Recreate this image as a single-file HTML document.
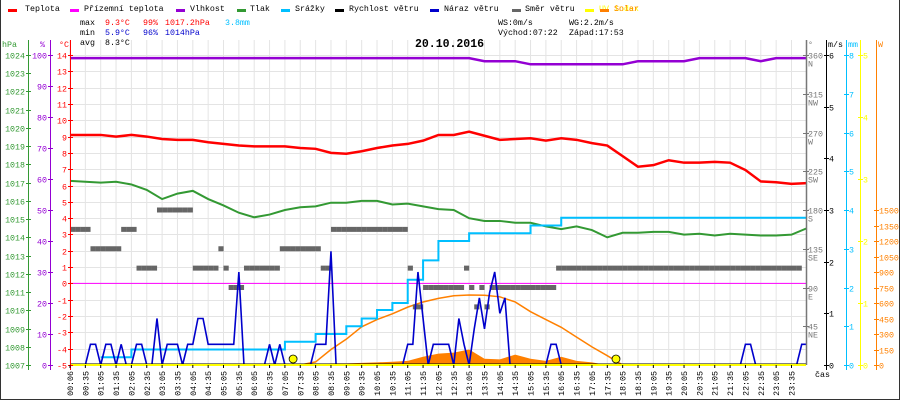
<!DOCTYPE html>
<html><head><meta charset="utf-8">
<style>
html,body{margin:0;padding:0;background:#fff;}
#wrap{position:relative;width:900px;height:400px;overflow:hidden;background:#fff;font-family:"Liberation Mono",monospace;}
svg{position:absolute;left:0;top:0;}
.t{position:absolute;font-size:8.3px;line-height:10px;white-space:pre;font-family:"Liberation Mono",monospace;}
.lg{position:absolute;top:5px;height:10px;}
.dash{position:absolute;top:4px;width:9px;height:3px;}
</style></head>
<body>
<div id="wrap">
<svg id="chart" width="900" height="400"></svg>

<div class="lg" style="left:8px"><span class="dash" style="left:0;background:#ff0000"></span><span class="t" style="left:17px;top:0">Teplota</span></div>
<div class="lg" style="left:70px"><span class="dash" style="left:0;background:#ff00ff"></span><span class="t" style="left:14px;top:0">Přízemní teplota</span></div>
<div class="lg" style="left:176px"><span class="dash" style="left:0;background:#9400d3"></span><span class="t" style="left:14px;top:0">Vlhkost</span></div>
<div class="lg" style="left:237px"><span class="dash" style="left:0;background:#339933"></span><span class="t" style="left:13px;top:0">Tlak</span></div>
<div class="lg" style="left:281px"><span class="dash" style="left:0;background:#00bfff"></span><span class="t" style="left:14px;top:0">Srážky</span></div>
<div class="lg" style="left:335px"><span class="dash" style="left:0;background:#000"></span><span class="t" style="left:14px;top:0">Rychlost větru</span></div>
<div class="lg" style="left:430px"><span class="dash" style="left:0;background:#0000cc"></span><span class="t" style="left:14px;top:0">Náraz větru</span></div>
<div class="lg" style="left:512px"><span class="dash" style="left:0;background:#666"></span><span class="t" style="left:13px;top:0">Směr větru</span></div>
<div class="lg" style="left:585px"><span class="dash" style="left:0;background:#ffff00"></span><span class="t" style="left:14px;top:0;color:#ffff00">UV index</span></div>
<div class="lg" style="left:600px;left:600px"><span class="dash" style="left:0;background:#ff8000"></span><span class="t" style="left:14px;top:0;color:#ff8000">Solar</span></div>

<span class="t" style="left:80px;top:19px">max</span>
<span class="t" style="left:105px;top:19px;color:#ff0000">9.3°C</span>
<span class="t" style="left:143px;top:19px;color:#ff0000">99%</span>
<span class="t" style="left:165px;top:19px;color:#ff0000">1017.2hPa</span>
<span class="t" style="left:225px;top:19px;color:#00bfff">3.8mm</span>
<span class="t" style="left:80px;top:29px">min</span>
<span class="t" style="left:105px;top:29px;color:#0000cc">5.9°C</span>
<span class="t" style="left:143px;top:29px;color:#0000cc">96%</span>
<span class="t" style="left:165px;top:29px;color:#0000cc">1014hPa</span>
<span class="t" style="left:80px;top:39px">avg</span>
<span class="t" style="left:105px;top:39px">8.3°C</span>
<span class="t" style="left:498px;top:19px">WS:0m/s</span>
<span class="t" style="left:569px;top:19px">WG:2.2m/s</span>
<span class="t" style="left:498px;top:29px">Východ:07:22</span>
<span class="t" style="left:569px;top:29px">Západ:17:53</span>
<span class="t" style="left:415px;top:38px;font-size:11.5px;font-weight:bold;line-height:14px">20.10.2016</span>
</div>

<script>
// ---- data (30-minute samples starting 00:06) ----
var temperature = [9.1,9.1,9.1,9.0,9.1,9.0,8.85,8.8,8.8,8.65,8.55,8.45,8.4,8.4,8.4,8.3,8.25,8.0,7.95,8.1,8.3,8.45,8.55,8.75,9.1,9.1,9.3,9.05,8.8,8.85,8.9,8.75,8.9,8.8,8.6,8.45,7.8,7.15,7.25,7.55,7.4,7.4,7.45,7.4,6.95,6.25,6.2,6.1,6.15];
var pressure = [1017.1,1017.05,1017.0,1017.05,1016.9,1016.6,1016.1,1016.4,1016.55,1016.1,1015.75,1015.35,1015.1,1015.25,1015.5,1015.65,1015.7,1015.9,1015.9,1016.0,1016.0,1015.8,1015.85,1015.7,1015.55,1015.5,1015.05,1014.9,1014.9,1014.8,1014.8,1014.6,1014.45,1014.6,1014.4,1014.0,1014.25,1014.25,1014.3,1014.3,1014.15,1014.2,1014.1,1014.2,1014.15,1014.1,1014.1,1014.15,1014.5];
var humidity = [99,99,99,99,99,99,99,99,99,99,99,99,99,99,99,99,99,99,99,99,99,99,99,99,99,99,99,98,98,98,97,97,97,97,97,97,97,98,98,98,98,99,99,99,99,98,99,99,99];
var rain = [null,null,0.2,0.2,0.4,0.4,0.4,0.4,0.4,0.4,0.4,0.4,0.4,0.4,0.6,0.6,0.8,0.8,1.0,1.2,1.42,1.6,2.2,2.7,3.2,3.2,3.4,3.4,3.4,3.4,3.6,3.6,3.8,3.8,3.8,3.8,3.8,3.8,3.8,3.8,3.8,3.8,3.8,3.8,3.8,3.8,3.8,3.8,3.8];
var solar = [0,0,0,0,0,0,0,0,0,0,0,0,0,0,0,0,5,16,16,20,25,32,40,80,110,120,150,60,55,100,60,40,80,40,25,0,0,0,0,0,0,0,0,0,0,0,0,0,0];
var solarMax = [null,null,null,null,null,null,null,null,null,null,null,null,null,null,null,0,30,150,250,370,440,495,560,610,645,670,678,675,660,610,516,440,365,270,175,90,0,null,null,null,null,null,null,null,null,null,null,null,null];
var feelsLike = [0,0];
// ---- data (10-minute samples starting 00:06) ----
var gust = [0,0,0,0,0.4,0.4,0,0.4,0.4,0,0.4,0,0,0.4,0.4,0,0,0.9,0,0.4,0.4,0.4,0,0.4,0.4,0.9,0.9,0.4,0.4,0.4,0.4,0.4,0.4,1.8,0,0,0,0,0,0.4,0,0.4,0,0,0,0,0,0,0.4,0.4,0.4,2.2,0,0,0,0,0,0,0,0,0,0,0,0,0,0,0.4,0.4,1.8,0.9,0,0.4,0.4,0.4,0.4,0,0.9,0.4,0,0.7,1.3,0.7,1.4,1.8,1.0,1.3,0,0,0,0,0,0,0,0,0.4,0.4,0,0,0,0,0,0,0,0,0,0,0,0,0,0,0,0,0,0,0,0,0,0,0,0,0,0,0,0,0,0,0,0,0,0,0,0,0.4,0.4,0,0,0,0,0,0,0,0,0,0.4,0.4];
var direction = [157.5,157.5,157.5,157.5,135,135,135,135,135,135,157.5,157.5,157.5,112.5,112.5,112.5,112.5,180,180,180,180,180,180,180,112.5,112.5,112.5,112.5,112.5,135,112.5,90,90,90,112.5,112.5,112.5,112.5,112.5,112.5,112.5,135,135,135,135,135,135,135,135,112.5,112.5,157.5,157.5,157.5,157.5,157.5,157.5,157.5,157.5,157.5,157.5,157.5,157.5,157.5,157.5,157.5,112.5,67.5,67.5,90,90,90,90,90,90,90,90,112.5,90,67.5,90,67.5,90,90,90,90,90,90,90,90,90,90,90,90,90,112.5,112.5,112.5,112.5,112.5,112.5,112.5,112.5,112.5,112.5,112.5,112.5,112.5,112.5,112.5,112.5,112.5,112.5,112.5,112.5,112.5,112.5,112.5,112.5,112.5,112.5,112.5,112.5,112.5,112.5,112.5,112.5,112.5,112.5,112.5,112.5,112.5,112.5,112.5,112.5,112.5,112.5,112.5,112.5,112.5,112.5,112.5,112.5];
// ---- tick labels ----
var timeLabels = ["00:06","00:35","01:05","01:35","02:05","02:35","03:05","03:35","04:05","04:35","05:05","05:35","06:05","06:35","07:05","07:35","08:05","08:35","09:05","09:35","10:05","10:35","11:05","11:35","12:05","12:35","13:05","13:35","14:05","14:35","15:05","15:35","16:05","16:35","17:05","17:35","18:05","18:35","19:05","19:35","20:05","20:35","21:05","21:35","22:05","22:35","23:05","23:35"];
var tempTicks = [-5,-4,-3,-2,-1,0,1,2,3,4,5,6,7,8,9,10,11,12,13,14];
var pressTicks = [1007,1008,1009,1010,1011,1012,1013,1014,1015,1016,1017,1018,1019,1020,1021,1022,1023,1024];
var humTicks = [0,10,20,30,40,50,60,70,80,90,100];
var dirTicks = [45,90,135,180,225,270,315,360];
var dirNames = ["NE","E","SE","S","SW","W","NW","N"];
var windTicks = [0,1,2,3,4,5,6];
var rainTicks = [0,1,2,3,4,5,6,7,8];
var uvTicks = [0,1,2,3,4,5];
var solarTicks = [0,150,300,450,600,750,900,1050,1200,1350,1500];
var sunEvents = [442,1073];

// ---- scales ----
var X0=70, PXMIN=0.5117, YB=365;
function xt(m){return X0+(m-6)*PXMIN;}
function xi(i){return xt(6+30*i);}
function xk(k){return xt(6+10*k);}
function yT(v){return YB-(v+5)*16.316;}
function yP(v){return YB-(v-1007)*18.235;}
function yH(v){return YB-v*3.1;}
function yR(v){return YB-v*38.75;}
function yW(v){return YB-v*51.667;}
function yD(v){return YB-v*0.8611;}
function yU(v){return YB-v*62;}
function yS(v){return YB-v*0.10333;}

var svg=document.getElementById('chart');
var NS='http://www.w3.org/2000/svg';
function mk(tag,attrs,parent){var e=document.createElementNS(NS,tag);for(var a in attrs)e.setAttribute(a,attrs[a]);(parent||svg).appendChild(e);return e;}
function txt(x,y,s,fill,anchor,parent){var e=mk('text',{x:x,y:y,fill:fill,'font-size':'8.3','font-family':'Liberation Mono, monospace','text-anchor':anchor||'start'},parent);e.textContent=s;return e;}

// frame
var fr=mk('path',{d:'M0.5 0 V399.5 H899.5 V0',fill:'none',stroke:'#333','stroke-width':1});



// grid
var grid=mk('g',{});


for(var g=0;g<timeLabels.length;g++){
  var gx=xi(g);
  var vl=mk('line',{x1:gx,x2:gx,y1:40,y2:YB,stroke:'#e4e4e4','stroke-width':1},grid);
  
  
}
for(var h=0;h<tempTicks.length;h++){
  var gy=Math.round(yT(tempTicks[h]))+0.5;
  var hl=mk('line',{x1:X0,x2:806,y1:gy,y2:gy,stroke:'#e4e4e4','stroke-width':1},grid);
  
  
}

// solar area
var sp='M'+xi(0)+' '+YB;
for(var i=0;i<solar.length;i++){sp+=' L'+xi(i)+' '+yS(solar[i]);}
sp+=' L'+xi(solar.length-1)+' '+YB+' Z';
var sa=mk('path',{d:sp,fill:'#ff8000',stroke:'none'});



function linePath(arr,xf,yf,step){
  var d='',started=false,px=0;
  for(var i=0;i<arr.length;i++){
    if(arr[i]===null){started=false;continue;}
    var x=xf(i),y=yf(arr[i]);
    if(!started){d+='M'+x+' '+y;started=true;}
    else if(step){d+=' L'+x+' '+yf(arr[i-1])+' L'+x+' '+y;}
    else d+=' L'+x+' '+y;
  }
  return d;
}

// solar max curve
var smc=mk('path',{d:linePath(solarMax,xi,yS,false),fill:'none',stroke:'#ff8000','stroke-width':1.5});



// feels-like (0 line)
var fl=mk('line',{x1:X0,x2:806,y1:yT(feelsLike[0]),y2:yT(feelsLike[1]),stroke:'#ff00ff','stroke-width':1});



// wind direction bars
var dg=mk('g',{});


for(var k=0;k<direction.length;k++){
  if(direction[k]===null)continue;
  var r=mk('rect',{x:xk(k),y:yD(direction[k])-2.5,width:5.2,height:5,fill:'#666'},dg);
  
  
}

// humidity
var hu=mk('path',{d:linePath(humidity,xi,yH,false),fill:'none',stroke:'#9400d3','stroke-width':2.5});


// pressure
var pr=mk('path',{d:linePath(pressure,xi,yP,false),fill:'none',stroke:'#339933','stroke-width':2});


// temperature
var te=mk('path',{d:linePath(temperature,xi,yT,false),fill:'none',stroke:'#ff0000','stroke-width':2.5});


// rain
var ra=mk('path',{d:linePath(rain,xi,yR,true),fill:'none',stroke:'#00bfff','stroke-width':2});


// gust
var gu=mk('path',{d:linePath(gust,xk,yW,false),fill:'none',stroke:'#0000cc','stroke-width':1.6});


// wind speed + uv baseline
var ws=mk('line',{x1:X0,x2:806,y1:YB-1,y2:YB-1,stroke:'#000','stroke-width':1});


var uv=mk('line',{x1:X0,x2:806,y1:YB,y2:YB,stroke:'#ffff00','stroke-width':2});



// sun markers
for(var s=0;s<sunEvents.length;s++){
  var c=mk('circle',{cx:xt(sunEvents[s]),cy:359,r:4,fill:'#ffff00',stroke:'#000','stroke-width':0.8});
  
  
}

// left axes
function axis(x,color,name,ticks,yf,fmt,side,top){
  var g=mk('g',{});
  
  
  mk('line',{x1:x+0.5,x2:x+0.5,y1:top,y2:370,stroke:color,'stroke-width':1},g);
  for(var i=0;i<ticks.length;i++){
    var y=Math.round(yf(ticks[i]))+0.5;
    mk('line',{x1:x-2,x2:x+3,y1:y,y2:y,stroke:color,'stroke-width':1},g);
    var t=side==='left'?txt(x-3,y+3,fmt(ticks[i]),color,'end',g):txt(x+3,y+3,fmt(ticks[i]),color,'start',g);
    
    
  }
  return g;
}
axis(28,'#339933','pressure-axis',pressTicks,yP,String,'left',40);
axis(50,'#9400d3','humidity-axis',humTicks,yH,String,'left',40);
axis(70,'#ff0000','temperature-axis',tempTicks,yT,String,'left',40);
var ah=[[2,'hPa','#339933'],[40,'%','#9400d3'],[59,'°C','#ff0000']];
for(var a=0;a<ah.length;a++){var at=txt(ah[a][0],47,ah[a][1],ah[a][2],'start');
  
  }

// right direction axis (plot border)
var dax=mk('g',{});


mk('line',{x1:806.5,x2:806.5,y1:40,y2:YB,stroke:'#777','stroke-width':1.5},dax);
for(var d=0;d<dirTicks.length;d++){
  var dy=Math.round(yD(dirTicks[d]))+0.5;
  mk('line',{x1:803,x2:809,y1:dy,y2:dy,stroke:'#777'},dax);
  var dt=txt(808,dy+3,String(dirTicks[d]),'#777','start',dax);
  
  
  var dn=txt(808,dy+11,dirNames[d],'#777','start',dax);
  
  
}
axis(826,'#000','wind-axis',windTicks,yW,String,'right',40);
axis(846,'#00bfff','rain-axis',rainTicks,yR,String,'right',40);
axis(860,'#ffff00','uv-axis',uvTicks,yU,String,'right',40);
axis(876,'#ff8000','solar-axis',solarTicks,yS,String,'right',40);
var rh=[[808,'°','#777'],[828,'m/s','#000'],[848,'mm','#00bfff'],[878,'W','#ff8000']];
for(var b=0;b<rh.length;b++){var bt=txt(rh[b][0],47,rh[b][1],rh[b][2],'start');
  
  }

// x axis labels
var xg=mk('g',{});


for(var j=0;j<timeLabels.length;j++){
  var lx=xi(j);
  mk('line',{x1:lx,x2:lx,y1:YB,y2:YB+3,stroke:'#000'},xg);
  var lt=mk('text',{x:0,y:0,fill:'#000','font-size':'8.3','font-family':'Liberation Mono, monospace','text-anchor':'end',transform:'translate('+(lx+3)+',371) rotate(-90)'},xg);
  lt.textContent=timeLabels[j];
  
  
}
var cas=txt(815,377,'čas','#000','start');


</script>
</body></html>
